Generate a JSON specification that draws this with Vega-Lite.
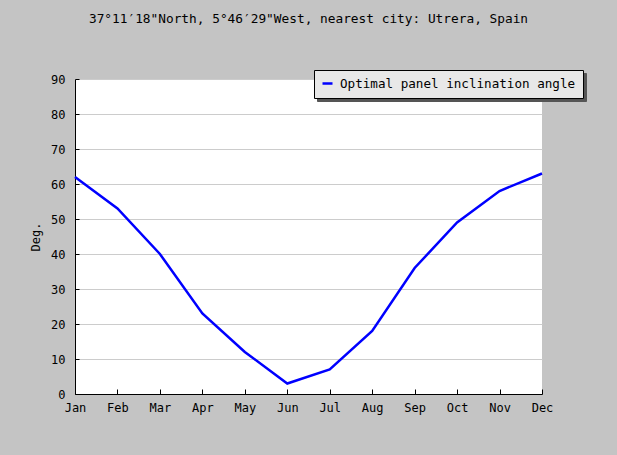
{
  "$schema": "https://vega.github.io/schema/vega-lite/v6.json",
  "width": 467,
  "height": 315,
  "autosize": {"type": "none"},
  "padding": {"left": 75, "top": 79, "right": 75, "bottom": 61},
  "background": "#c4c4c4",
  "title": {
    "text": "37°11′18\"North, 5°46′29\"West, nearest city: Utrera, Spain",
    "font": "DejaVu Sans Mono",
    "fontSize": 12.8,
    "fontWeight": "normal",
    "color": "#000000",
    "anchor": "middle",
    "frame": "group",
    "baseline": "alphabetic",
    "offset": 34
  },
  "config": {
    "view": {"fill": "#ffffff", "stroke": null},
    "font": "DejaVu Sans Mono",
    "axis": {
      "labelFont": "DejaVu Sans Mono",
      "labelFontSize": 12,
      "labelColor": "#000000",
      "titleFont": "DejaVu Sans Mono",
      "titleFontWeight": "normal",
      "titleColor": "#000000",
      "domainColor": "#000000",
      "domainWidth": 1,
      "tickColor": "#000000",
      "tickWidth": 1
    }
  },
  "data": {
    "values": [
      {"month": "Jan", "angle": 62, "series": "Optimal panel inclination angle", "shadow": "Optimal panel inclination angle "},
      {"month": "Feb", "angle": 53, "series": "Optimal panel inclination angle", "shadow": "Optimal panel inclination angle "},
      {"month": "Mar", "angle": 40, "series": "Optimal panel inclination angle", "shadow": "Optimal panel inclination angle "},
      {"month": "Apr", "angle": 23, "series": "Optimal panel inclination angle", "shadow": "Optimal panel inclination angle "},
      {"month": "May", "angle": 12, "series": "Optimal panel inclination angle", "shadow": "Optimal panel inclination angle "},
      {"month": "Jun", "angle": 3, "series": "Optimal panel inclination angle", "shadow": "Optimal panel inclination angle "},
      {"month": "Jul", "angle": 7, "series": "Optimal panel inclination angle", "shadow": "Optimal panel inclination angle "},
      {"month": "Aug", "angle": 18, "series": "Optimal panel inclination angle", "shadow": "Optimal panel inclination angle "},
      {"month": "Sep", "angle": 36, "series": "Optimal panel inclination angle", "shadow": "Optimal panel inclination angle "},
      {"month": "Oct", "angle": 49, "series": "Optimal panel inclination angle", "shadow": "Optimal panel inclination angle "},
      {"month": "Nov", "angle": 58, "series": "Optimal panel inclination angle", "shadow": "Optimal panel inclination angle "},
      {"month": "Dec", "angle": 63, "series": "Optimal panel inclination angle", "shadow": "Optimal panel inclination angle "}
    ]
  },
  "mark": {"type": "line", "strokeWidth": 2.5},
  "encoding": {
    "x": {
      "field": "month",
      "type": "ordinal",
      "sort": null,
      "scale": {"type": "point", "padding": 0},
      "axis": {
        "title": null,
        "labelAngle": 0,
        "grid": false,
        "tickSize": -5,
        "labelPadding": 13,
        "labelBaseline": "top"
      }
    },
    "y": {
      "field": "angle",
      "type": "quantitative",
      "scale": {"domain": [0, 90], "nice": false, "zero": true},
      "axis": {
        "title": "Deg.",
        "values": [0, 10, 20, 30, 40, 50, 60, 70, 80, 90],
        "grid": true,
        "gridColor": "#cccccc",
        "gridWidth": 1,
        "tickSize": -4,
        "labelPadding": 14,
        "titleFontSize": 12,
        "titleX": -40,
        "titleY": 157.5,
        "titleAngle": 270,
        "titleAlign": "center",
        "titleBaseline": "middle"
      }
    },
    "fill": {
      "field": "shadow",
      "type": "nominal",
      "scale": {"range": ["transparent"]},
      "legend": {
        "title": null,
        "orient": "none",
        "legendX": 242,
        "legendY": -6,
        "symbolType": "stroke",
        "symbolSize": 100,
        "symbolStrokeWidth": 2.5,
        "symbolOpacity": 0,
        "labelFont": "DejaVu Sans Mono",
        "labelFontSize": 12.6,
        "labelColor": "#555555",
        "labelLimit": 0,
        "labelOffset": 6,
        "padding": 7,
        "fillColor": "#555555",
        "strokeColor": "#555555"
      }
    },
    "stroke": {
      "field": "series",
      "type": "nominal",
      "scale": {"range": ["#0000ff"]},
      "legend": {
        "title": null,
        "orient": "none",
        "legendX": 239,
        "legendY": -9,
        "symbolType": "stroke",
        "symbolSize": 100,
        "symbolStrokeWidth": 2.5,
        "labelFont": "DejaVu Sans Mono",
        "labelFontSize": 12.6,
        "labelColor": "#000000",
        "labelLimit": 0,
        "labelOffset": 6,
        "padding": 7,
        "fillColor": "#e8e8e8",
        "strokeColor": "#000000"
      }
    }
  }
}
